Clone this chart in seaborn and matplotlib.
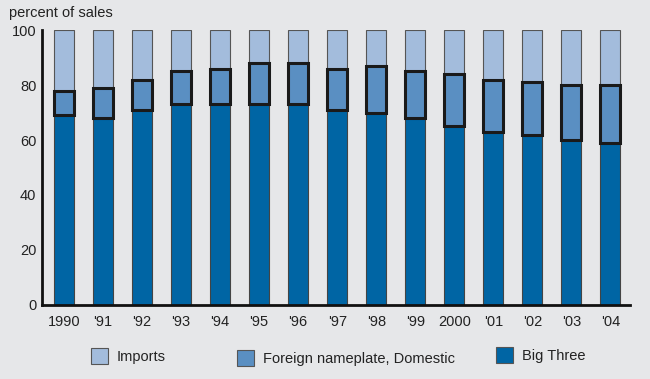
import numpy as np
import pandas as pd
import seaborn as sns
import matplotlib.pyplot as plt
from matplotlib.patches import Patch

years = ['1990', "'91", "'92", "'93", "'94", "'95", "'96", "'97", "'98", "'99",
         '2000', "'01", "'02", "'03", "'04"]
big_three = [69, 68, 71, 73, 73, 73, 73, 71, 70, 68, 65, 63, 62, 60, 59]
foreign_domestic = [9, 11, 11, 12, 13, 15, 15, 15, 17, 17, 19, 19, 19, 20, 21]
imports = [100 - b - f for b, f in zip(big_three, foreign_domestic)]

c_imp = '#a3bcdc'
c_for = '#5a8fc2'
c_big = '#0065a4'
bg = '#e6e7e9'

df = pd.DataFrame({'year': years, 'big': big_three, 'foreign': foreign_domestic, 'imports': imports})
df['big_for'] = df['big'] + df['foreign']

sns.set_style('white')
plt.rcParams['font.family'] = ['Liberation Sans', 'DejaVu Sans']

fig = plt.figure(figsize=(6.5, 3.79), dpi=100, facecolor=bg)
ax = fig.add_axes([0.0646, 0.1953, 0.9044, 0.7255])
ax.set_facecolor(bg)

w = 0.51
sns.barplot(data=df, x='year', y='imports', bottom=df['big_for'].values, color=c_imp,
            saturation=1, width=w, edgecolor='#555555', linewidth=0.8, ax=ax)
sns.barplot(data=df, x='year', y='big', color=c_big, saturation=1, width=w,
            edgecolor='#444444', linewidth=0.8, ax=ax)
sns.barplot(data=df, x='year', y='foreign', bottom=df['big'].values, color=c_for,
            saturation=1, width=w, edgecolor='#1a1a1a', linewidth=2.2, ax=ax)

ax.set_ylim(0, 100)
ax.set_xlim(-0.565, 14.495)
ax.set_yticks([0, 20, 40, 60, 80, 100])
ax.set_xlabel('')
ax.set_ylabel('')
ax.tick_params(axis='y', length=0, pad=4, labelsize=10.5, labelcolor='#222222')
ax.tick_params(axis='x', which='major', length=0, pad=7, labelsize=10.5, labelcolor='#222222')
ax.set_xticks(np.arange(len(years)) + 0.5, minor=True)
ax.tick_params(axis='x', which='minor', direction='in', length=4, width=1.5, color='#111111')

for s in ['top', 'right']:
    ax.spines[s].set_visible(False)
for s in ['left', 'bottom']:
    ax.spines[s].set_color('#111111')
    ax.spines[s].set_linewidth(2)

fig.text(9 / 650, 1 - 13 / 379, 'percent of sales', fontsize=10.5, color='#222222', va='center')

items = [(c_imp, 'Imports', 91, 356), (c_for, 'Foreign nameplate, Domestic', 237, 358),
         (c_big, 'Big Three', 496, 355)]
for col, lab, x, y in items:
    h = Patch(facecolor=col, edgecolor='#555555', linewidth=0.8)
    fig.legend([h], [lab], loc='center left', bbox_to_anchor=(x / 650, 1 - y / 379),
               frameon=False, fontsize=10.5, borderpad=0, borderaxespad=0,
               handlelength=1.16, handleheight=1.25, handletextpad=0.62,
               labelcolor='#222222')

fig.savefig('out.png', dpi=100, facecolor=bg)
